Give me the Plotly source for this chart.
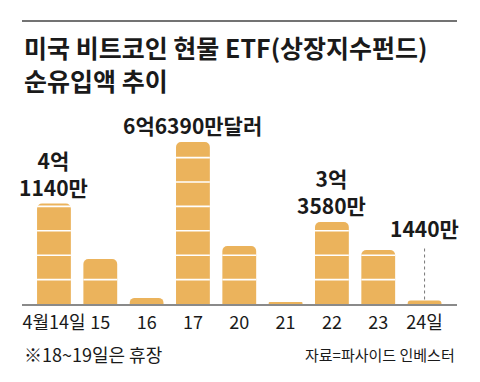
import plotly.graph_objects as go

categories = ["4월14일", "15", "16", "17", "20", "21", "22", "23", "24일"]
values = [411.4, 184, 25, 663.9, 238, 8, 335.8, 221, 14.4]  # 백만 달러
labels = {0: ["4억", "1140만"], 3: ["6억6390만달러"], 6: ["3억", "3580만"]}
leader_label = {8: "1440만"}

title_lines = ["미국 비트코인 현물 ETF(상장지수펀드)", "순유입액 추이"]
note = "※18~19일은 휴장"
source = "자료=파사이드 인베스터"

BAR = "#EBB35C"
TXT = "#1a1a1a"
NARROW = "Liberation Sans Narrow, Noto Sans CJK KR, sans-serif"
CJK = "Noto Sans CJK KR, sans-serif"
bw = 0.73
idx = list(range(len(categories)))

fig = go.Figure()
fig.add_trace(go.Bar(x=idx, y=values, width=bw, marker=dict(color=BAR, line=dict(width=0)),
                     hoverinfo="skip"))

shapes = []
for i, v in zip(idx, values):
    k = 1
    while k * 100 < v - 3:
        shapes.append(dict(type="line", xref="x", yref="y", x0=i - bw / 2, x1=i + bw / 2,
                           y0=k * 100, y1=k * 100, line=dict(color="white", width=1.6), layer="above"))
        k += 1

ann = []
for i, lines in labels.items():
    ann.append(dict(x=i, y=values[i], xref="x", yref="y",
                    text="<br>".join(f"<b>{t}</b>" for t in lines),
                    showarrow=False, yanchor="bottom", yshift=0,
                    font=dict(family=NARROW, size=21, color=TXT)))
for i, t in leader_label.items():
    top = values[i] + 235
    ann.append(dict(x=i, y=top, xref="x", yref="y", text=f"<b>{t}</b>",
                    showarrow=False, yanchor="bottom", yshift=-2,
                    font=dict(family=NARROW, size=21, color=TXT)))
    shapes.append(dict(type="line", xref="x", yref="y", x0=i, x1=i, y0=values[i] + 4, y1=top - 12,
                       line=dict(color="#777", width=1, dash="dot")))

# header rule
shapes.append(dict(type="line", xref="paper", yref="paper", x0=0, x1=1, y0=1.459, y1=1.459,
                   line=dict(color="#444", width=1.5)))

ann += [
    dict(x=0, y=1.42, xref="paper", yref="paper",
         text="<br>".join(f"<b>{t}</b>" for t in title_lines), showarrow=False, align="left",
         xanchor="left", yanchor="top", yshift=2, font=dict(family=CJK, size=25, color=TXT)),
    dict(x=0, y=-0.26, xref="paper", yref="paper", text=note, showarrow=False,
         xanchor="left", yanchor="middle", font=dict(family=NARROW, size=18, color=TXT)),
    dict(x=1, y=-0.26, xref="paper", yref="paper", text=source, showarrow=False,
         xanchor="right", yanchor="middle", font=dict(family=CJK, size=15, color=TXT)),
]

fig.update_layout(
    width=480, height=382,
    margin=dict(l=22, r=23, t=110, b=78, autoexpand=False),
    paper_bgcolor="white", plot_bgcolor="white",
    showlegend=False, barcornerradius=5,
    shapes=shapes, annotations=ann,
    xaxis=dict(range=[-0.69, 8.70], showgrid=False, zeroline=False, automargin=False,
               tickmode="array", tickvals=idx, ticktext=categories, tickangle=0,
               ticklabelstandoff=2,
               showline=True, linecolor="#8a8a8a", linewidth=1.5, ticks="",
               tickfont=dict(family=NARROW, size=18, color=TXT), fixedrange=True),
    yaxis=dict(range=[0, 795], visible=False, fixedrange=True, automargin=False),
)

fig.write_html("out.html", config={"displayModeBar": False},
               post_script="document.body.style.margin='0';")
